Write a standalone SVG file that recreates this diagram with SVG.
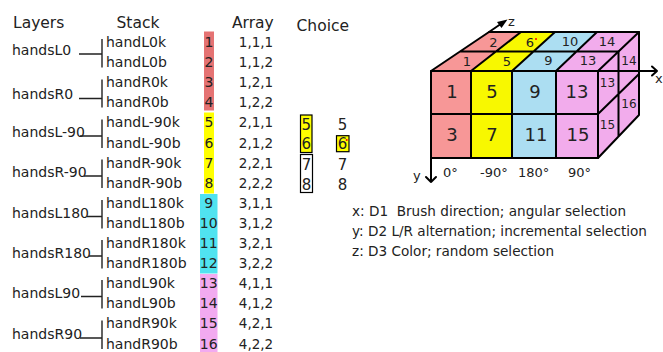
<svg xmlns="http://www.w3.org/2000/svg" width="663" height="352" viewBox="0 0 663 352">
<defs>
<style>
text{font-family:"DejaVu Sans","Liberation Sans",sans-serif;fill:#222;}
.hd{font-size:15.5px;}
.tx{font-size:14px;}
.num{font-size:14px;text-anchor:middle;}
.arr{font-size:13.5px;text-anchor:middle;}
.ch{font-size:15px;text-anchor:middle;}
.lg{font-size:13.6px;white-space:pre;}
.ax{font-size:13px;}
.fl{font-size:18px;text-anchor:middle;}
.tl{font-size:13px;text-anchor:middle;}
.rl{font-size:12px;text-anchor:middle;}
.br{fill:none;stroke:#222;stroke-width:1.4;}
.ln{fill:none;stroke:#000;stroke-width:2;stroke-linejoin:round;stroke-linecap:round;}
.axl{fill:none;stroke:#000;stroke-width:2;stroke-linecap:round;stroke-linejoin:round;}
.c1{fill:#f79797;}
.c2{fill:#f8f800;}
.c3{fill:#acdef2;}
.c4{fill:#f2acec;}
</style>
</defs>
<rect width="663" height="352" fill="#fff"/>

<g id="headers">
<text class="hd" x="13" y="28">Layers</text>
<text class="hd" x="116.5" y="28">Stack</text>
<text class="hd" x="232" y="28">Array</text>
<text class="hd" x="296.5" y="30.5">Choice</text>
</g>

<g id="connectors">
<path class="br" d="M79,54 H102 M102,39 V67.5"/>
<path class="br" d="M79,98.5 H102 M102,79.5 V107.5"/>
<path class="br" d="M80,136 H102 M102,119.5 V148"/>
<path class="br" d="M84,176 H102 M102,159.5 V188"/>
<path class="br" d="M87,216.5 H102 M102,200 V228.5"/>
<path class="br" d="M89,256 H102 M102,240 V268.5"/>
<path class="br" d="M81,296.5 H102 M102,280 V308.5"/>
<path class="br" d="M80,338 H102 M102,320.5 V349"/>
</g>

<g id="layers">
<text id="handsL0" class="tx" x="12" y="55">handsL0</text>
<text id="handsR0" class="tx" x="12" y="98.5">handsR0</text>
<text id="handsL-90" class="tx" x="12" y="137">handsL-90</text>
<text id="handsR-90" class="tx" x="12" y="177">handsR-90</text>
<text id="handsL180" class="tx" x="12" y="218">handsL180</text>
<text id="handsR180" class="tx" x="12" y="258">handsR180</text>
<text id="handsL90" class="tx" x="12" y="298">handsL90</text>
<text id="handsR90" class="tx" x="12" y="339">handsR90</text>
</g>

<g id="stack">
<text class="tx" x="106" y="47">handL0k</text>
<text class="tx" x="106" y="67.1">handL0b</text>
<text class="tx" x="106" y="87.2">handR0k</text>
<text class="tx" x="106" y="107.3">handR0b</text>
<text class="tx" x="106" y="127.4">handL-90k</text>
<text class="tx" x="106" y="147.5">handL-90b</text>
<text class="tx" x="106" y="167.6">handR-90k</text>
<text class="tx" x="106" y="187.7">handR-90b</text>
<text class="tx" x="106" y="207.8">handL180k</text>
<text class="tx" x="106" y="227.9">handL180b</text>
<text class="tx" x="106" y="248">handR180k</text>
<text class="tx" x="106" y="268.1">handR180b</text>
<text class="tx" x="106" y="288.2">handL90k</text>
<text class="tx" x="106" y="308.3">handL90b</text>
<text class="tx" x="106" y="328.4">handR90k</text>
<text class="tx" x="106" y="348.5">handR90b</text>
</g>

<g id="index">
<rect x="204" y="31.5" width="10" height="79" fill="#e57373"/>
<rect x="204" y="112.5" width="10" height="81" fill="#ffff00"/>
<rect x="200" y="194" width="17.5" height="79.5" fill="#50e3f0"/>
<rect x="200" y="274" width="17.5" height="78" fill="#f2aaf0"/>
<text class="num" x="209" y="47">1</text>
<text class="num" x="209" y="67.1">2</text>
<text class="num" x="209" y="87.2">3</text>
<text class="num" x="209" y="107.3">4</text>
<text class="num" x="209" y="127.4">5</text>
<text class="num" x="209" y="147.5">6</text>
<text class="num" x="209" y="167.6">7</text>
<text class="num" x="209" y="187.7">8</text>
<text class="num" x="208.7" y="207.8">9</text>
<text class="num" x="208.7" y="227.9">10</text>
<text class="num" x="208.7" y="248">11</text>
<text class="num" x="208.7" y="268.1">12</text>
<text class="num" x="208.7" y="288.2">13</text>
<text class="num" x="208.7" y="308.3">14</text>
<text class="num" x="208.7" y="328.4">15</text>
<text class="num" x="208.7" y="348.5">16</text>
</g>

<g id="array">
<text class="arr" x="256" y="47">1,1,1</text>
<text class="arr" x="256" y="67.1">1,1,2</text>
<text class="arr" x="256" y="87.2">1,2,1</text>
<text class="arr" x="256" y="107.3">1,2,2</text>
<text class="arr" x="256" y="127.4">2,1,1</text>
<text class="arr" x="256" y="147.5">2,1,2</text>
<text class="arr" x="256" y="167.6">2,2,1</text>
<text class="arr" x="256" y="187.7">2,2,2</text>
<text class="arr" x="256" y="207.8">3,1,1</text>
<text class="arr" x="256" y="227.9">3,1,2</text>
<text class="arr" x="256" y="248">3,2,1</text>
<text class="arr" x="256" y="268.1">3,2,2</text>
<text class="arr" x="256" y="288.2">4,1,1</text>
<text class="arr" x="256" y="308.3">4,1,2</text>
<text class="arr" x="256" y="328.4">4,2,1</text>
<text class="arr" x="256" y="348.5">4,2,2</text>
</g>

<g id="choice">
<rect x="300.5" y="115" width="11.5" height="37.5" fill="#ffff00" stroke="#000" stroke-width="1.2"/>
<rect x="300.5" y="154.5" width="12" height="38" fill="#fff" stroke="#000" stroke-width="1.2"/>
<text class="ch" x="306.2" y="130">5</text>
<text class="ch" x="306.2" y="148.5">6</text>
<text class="ch" x="306.5" y="170">7</text>
<text class="ch" x="306.5" y="190">8</text>
<rect x="336.5" y="135.7" width="12.5" height="16" fill="#ffff00" stroke="#000" stroke-width="1.2"/>
<text class="ch" x="342.5" y="130">5</text>
<text class="ch" x="342.5" y="148.5">6</text>
<circle cx="346.7" cy="140" r="1" fill="#f00"/>
<text class="ch" x="342.5" y="170">7</text>
<text class="ch" x="342.5" y="190">8</text>
</g>

<g id="cube">
<polygon class="c1" points="431,71 471,71 496,51.5 460,51.5"/>
<polygon class="c2" points="471,71 512,71 533.5,51.5 496,51.5"/>
<polygon class="c3" points="512,71 556,71 576.5,51.5 533.5,51.5"/>
<polygon class="c4" points="556,71 598,71 618.5,51.5 576.5,51.5"/>
<polygon class="c1" points="460,51.5 496,51.5 521,32 489,32"/>
<polygon class="c2" points="496,51.5 533.5,51.5 555,32 521,32"/>
<polygon class="c3" points="533.5,51.5 576.5,51.5 597,32 555,32"/>
<polygon class="c4" points="576.5,51.5 618.5,51.5 639,32 597,32"/>
<polygon class="c4" points="598,71 639,32 639,115 598,158"/>
<rect class="c1" x="431" y="71" width="40" height="87"/>
<rect class="c2" x="471" y="71" width="41" height="87"/>
<rect class="c3" x="512" y="71" width="44" height="87"/>
<rect class="c4" x="556" y="71" width="42" height="87"/>
<path class="ln" d="M431,71 H598 V158 H431 Z M471,71 V158 M512,71 V158 M556,71 V158 M431,114 H598"/>
<path class="ln" d="M431,71 L489,32 H639 L598,71 M460,51.5 H618.5 M471,71 L521,32 M512,71 L555,32 M556,71 L597,32"/>
<path class="ln" d="M639,32 V115 L598,158 M618.5,51.5 V136.5 M598,114 L639,74"/>
<text class="tl" x="467" y="66">1</text>
<text class="tl" x="507" y="65.5">5</text>
<text class="tl" x="548.5" y="65">9</text>
<text class="tl" x="588" y="65">13</text>
<text class="tl" x="493.5" y="46.5">2</text>
<text class="tl" x="530" y="46.5">6</text>
<circle cx="536" cy="39" r="1" fill="#f00"/>
<text class="tl" x="570" y="46">10</text>
<text class="tl" x="607" y="46">14</text>
<text class="rl" x="607.5" y="86.5">13</text>
<text class="rl" x="629" y="64.5">14</text>
<text class="rl" x="629" y="107.5">16</text>
<text class="rl" x="607.5" y="128.5">15</text>
<text class="fl" x="452" y="97.5">1</text>
<text class="fl" x="492" y="97.5">5</text>
<text class="fl" x="535" y="97.5">9</text>
<text class="fl" x="577" y="97.5">13</text>
<text class="fl" x="452" y="140.5">3</text>
<text class="fl" x="492" y="140.5">7</text>
<text class="fl" x="536" y="140.5">11</text>
<text class="fl" x="578" y="140.5">15</text>
</g>

<g id="axes">
<path class="axl" d="M431,157 V182 M426,177 L431,182 L436,177"/>
<path class="axl" d="M598,71 H657 M652,66.5 L657,71 L652,75.5"/>
<path class="axl" d="M489,32 L500,24.5"/>
<polygon points="507.5,19.5 497,22 501.5,28" fill="#000"/>
<text class="ax" x="508" y="25.5">z</text>
<text class="ax" x="655" y="83">x</text>
<text class="ax" x="413" y="180">y</text>
<text class="ax" x="443" y="177">0°</text>
<text class="ax" x="480" y="177">-90°</text>
<text class="ax" x="518" y="177">180°</text>
<text class="ax" x="568" y="177">90°</text>
</g>

<g id="legend">
<text class="lg" x="352" y="216">x: D1  Brush direction; angular selection</text>
<text class="lg" x="352" y="236">y: D2 L/R alternation; incremental selection</text>
<text class="lg" x="352" y="255.5">z: D3 Color; random selection</text>
</g>
</svg>
